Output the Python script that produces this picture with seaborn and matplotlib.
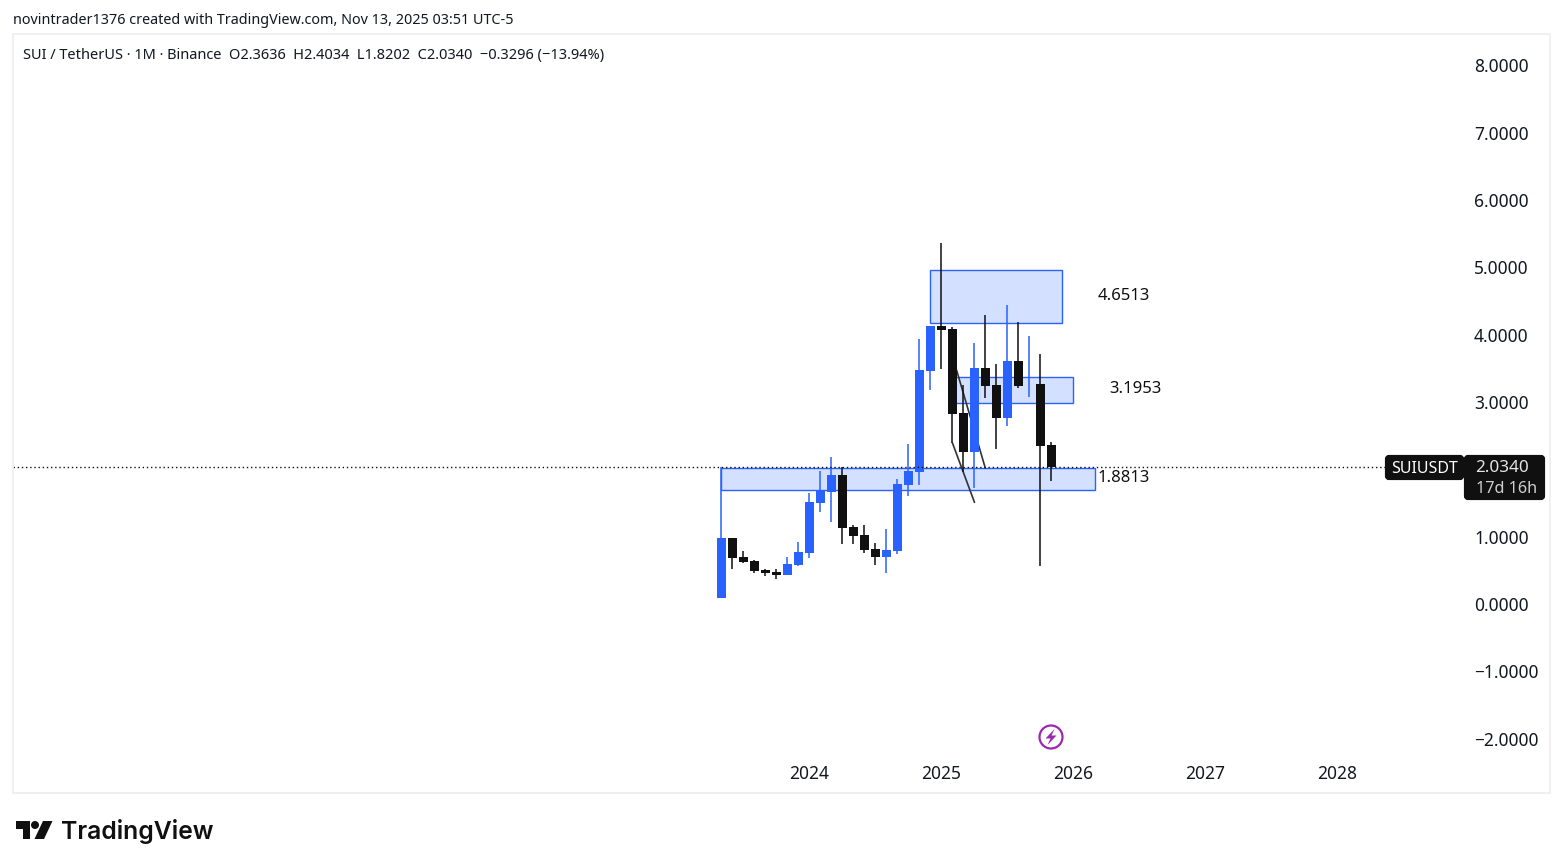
import matplotlib
matplotlib.use('Agg')
import matplotlib.pyplot as plt
from matplotlib.patches import Rectangle, Polygon, Circle, FancyBboxPatch
import pandas as pd
import seaborn as sns

sns.set_theme(style='white')
plt.rcParams['font.family'] = ['Noto Sans', 'DejaVu Sans']

BLUE = '#2962ff'
BLACK = '#101010'
W, H = 1563, 868

# monthly candles, month 0 = May 2023
months = list(range(31))
opens = [0.09, 0.98, 0.70, 0.64, 0.505, 0.475, 0.43, 0.579, 0.757, 1.50, 1.664, 1.916, 1.144, 1.025, 0.817,
         0.698, 0.787, 1.767, 1.96, 3.46, 4.13, 4.084, 2.837, 2.258, 3.505, 3.25, 2.76, 3.61, 3.25, 3.267, 2.3636]
highs = [2.03, 0.98, 0.79, 0.66, 0.52, 0.52, 0.70, 0.92, 1.65, 1.975, 2.183, 2.035, 1.173, 1.173, 0.906,
         1.114, 1.856, 2.376, 3.936, 4.129, 5.36, 4.114, 3.25, 3.876, 4.29, 3.56, 4.44, 4.19, 3.98, 3.713, 2.4034]
lows = [0.09, 0.52, 0.61, 0.465, 0.42, 0.376, 0.43, 0.564, 0.683, 1.366, 1.218, 0.891, 0.891, 0.757, 0.579,
        0.46, 0.742, 1.604, 1.767, 3.178, 3.49, 2.39, 1.96, 1.72, 3.06, 2.30, 2.64, 3.21, 3.074, 0.569, 1.8202]
closes = [0.98, 0.69, 0.62, 0.495, 0.46, 0.43, 0.594, 0.772, 1.515, 1.689, 1.916, 1.129, 1.01, 0.802, 0.698,
          0.802, 1.782, 1.975, 3.475, 4.129, 4.07, 2.822, 2.258, 3.505, 3.238, 2.76, 3.61, 3.238, 3.26, 2.347, 2.034]

# drawn zones: month from, month to, price low, price high
zone_from = [18.97, 21.0, 0.0]
zone_to = [31.0, 32.0, 34.0]
zone_low = [4.18, 2.99, 1.692]
zone_high = [4.96, 3.37, 2.023]

# drawn lines
line1_x, line1_y = [21.0, 23.0], [2.39, 1.51]
line2_x, line2_y = [21.37, 23.98], [3.475, 2.02]

zone_labels = ['4.6513', '3.1953', '1.8813']
zone_label_x = [36.6, 37.6, 36.6]
zone_label_y = [4.57, 3.19, 1.87]

# 2.0000 sits under the last price label, so it is left out
price_ticks = [-2, -1, 0, 1, 3, 4, 5, 6, 7, 8]
year_ticks = [8, 20, 32, 44, 56]
year_labels = ['2024', '2025', '2026', '2027', '2028']

df = pd.DataFrame({'month': months, 'open': opens, 'high': highs, 'low': lows, 'close': closes})
df['up'] = df['close'] >= df['open']
df['bottom'] = df[['open', 'close']].min(axis=1)
df['height'] = (df['close'] - df['open']).abs()

fig = plt.figure(figsize=(W / 100, H / 100), dpi=100, facecolor='white')
# main pane in pixels: x 13-1462, y 34-758
ax = fig.add_axes([13 / W, 1 - 758 / H, (1462 - 13) / W, (758 - 34) / H])
ax.patch.set_alpha(0)

for a, b, lo, hi in zip(zone_from, zone_to, zone_low, zone_high):
    ax.add_patch(Rectangle((a, lo), b - a, hi - lo, facecolor='#d4e0ff', edgecolor=BLUE, lw=1.0, zorder=1))

ax.plot(line1_x, line1_y, color='#333333', lw=1.2, zorder=1.5)
ax.plot(line2_x, line2_y, color='#333333', lw=1.2, zorder=1.5)

for is_up, color in [(True, BLUE), (False, BLACK)]:
    part = df[df['up'] == is_up]
    ax.vlines(part['month'], part['low'], part['high'], color=color, lw=1.1, zorder=2)
    sns.barplot(data=part, x='month', y='height', bottom=part['bottom'].values, native_scale=True,
                color=color, saturation=1, width=0.82, errorbar=None, linewidth=0, ax=ax, zorder=3)

ax.axhline(2.034, color=BLACK, lw=1.0, ls=(0, (1, 2)), zorder=4)

ax.set_xlim(-64.41, 67.32)
ax.set_ylim(-2.287, 8.466)
ax.yaxis.tick_right()
ax.set_yticks(price_ticks)
ax.set_yticklabels([f'{p:.4f}'.replace('-', '\u2212') for p in price_ticks], fontsize=12.5, color='#131722')
ax.set_xticks(year_ticks)
ax.set_xticklabels(year_labels, fontsize=12.5, color='#131722', fontweight='semibold')
ax.tick_params(axis='y', length=0, pad=8.7)
ax.tick_params(axis='x', length=0, pad=4.7)
ax.set_xlabel('')
ax.set_ylabel('')
sns.despine(ax=ax, left=True, bottom=True, right=True, top=True)

for label, x, y in zip(zone_labels, zone_label_x, zone_label_y):
    ax.text(x, y, label, ha='center', va='center', fontsize=12, color=BLACK, zorder=5)

# overlay in pixel coordinates for the chrome around the chart
over = fig.add_axes([0, 0, 1, 1])
over.set_xlim(0, W)
over.set_ylim(H, 0)
over.axis('off')
over.patch.set_alpha(0)

over.add_patch(Rectangle((13, 34), 1537, 759, fill=False, edgecolor='#eeeeee', lw=1.2))

over.text(13, 21, 'novintrader1376 created with TradingView.com, Nov 13, 2025 03:51 UTC-5',
          fontsize=10.35, color='#131722', va='center')
over.text(23, 56, 'SUI / TetherUS \u00b7 1M \u00b7 Binance  O2.3636  H2.4034  L1.8202  C2.0340  \u22120.3296 (\u221213.94%)',
          fontsize=10.5, color='#131722', va='center')

# last price labels
over.add_patch(FancyBboxPatch((1387, 457), 75, 21, boxstyle='round,pad=0,rounding_size=2', fc=BLACK, ec=BLACK, lw=3))
over.add_patch(FancyBboxPatch((1466, 457), 77, 41, boxstyle='round,pad=0,rounding_size=2', fc=BLACK, ec=BLACK, lw=3))
over.text(1424, 469, 'SUIUSDT', color='white', fontsize=11.5, ha='center', va='center', fontweight='semibold')
over.text(1502, 468.5, '2.0340', color='#e4e4e4', fontsize=12.3, ha='center', va='center', fontweight='semibold')
over.text(1507, 489, '17d 16h', color='#d0d0d0', fontsize=11.6, ha='center', va='center', fontweight='semibold')

# event marker
over.add_patch(Circle((1051, 737), 11.5, fill=False, edgecolor='#9c27b0', lw=1.6))
over.add_patch(Polygon([(1054.5, 729), (1045.5, 738.5), (1050.5, 738.5), (1047.5, 745), (1056.5, 735.5), (1051.5, 735.5)],
                       closed=True, fc='#9c27b0', ec='none'))

# TradingView logo
over.add_patch(Polygon([(15.5, 821), (30, 821), (30, 839), (22.5, 839), (22.5, 829), (15.5, 829)],
                       closed=True, fc=BLACK, ec='none'))
over.add_patch(Circle((35, 825), 4, fc=BLACK, ec='none'))
over.add_patch(Polygon([(43, 821), (52.5, 821), (44, 839), (34.5, 839)], closed=True, fc=BLACK, ec='none'))
over.text(61, 831, 'TradingView', fontsize=17.8, family='Inter', fontweight='semibold', color=BLACK, va='center')

fig.savefig('out.png', dpi=100)
